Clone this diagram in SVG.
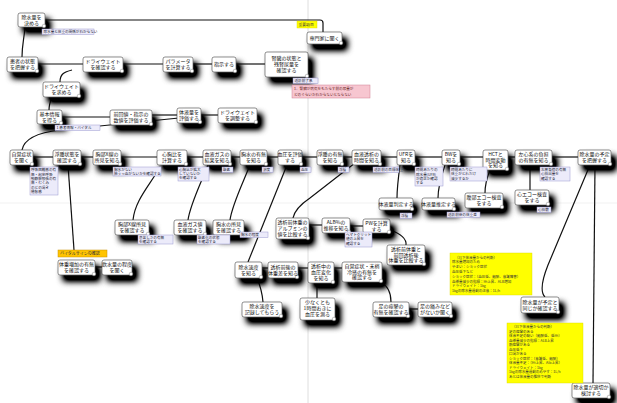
<svg xmlns="http://www.w3.org/2000/svg" width="617" height="403" viewBox="0 0 617 403">
<defs>
<filter id="sh" x="-50%" y="-70%" width="220%" height="280%">
<feGaussianBlur in="SourceAlpha" stdDeviation="3.2"/>
<feOffset dx="4.5" dy="5.5" result="b"/>
<feComponentTransfer in="b" result="c"><feFuncA type="linear" slope="1.5"/></feComponentTransfer>
<feMerge><feMergeNode in="c"/><feMergeNode in="SourceGraphic"/></feMerge>
</filter>
<style>
.n rect.b{fill:#fff;stroke:#444;stroke-width:0.6;filter:url(#sh)}
.n circle{fill:#fff;stroke:#888;stroke-width:0.5}
.n text{font-family:"Noto Sans CJK JP","Noto Sans",sans-serif;font-size:5px;fill:#111;text-anchor:middle}
.c path{fill:none;stroke:#111;stroke-width:1.2}
.note rect{fill:#ecebfa;stroke:#9a98d0;stroke-width:0.5}
.note text{font-family:"Noto Sans CJK JP","Noto Sans",sans-serif;font-size:3.6px;fill:#223}
.pink rect{fill:#f7c6d0;stroke:#d07f92;stroke-width:0.5}
.pink text{font-family:"Noto Sans CJK JP",sans-serif;font-size:3.6px;fill:#622}
.yel rect{fill:#ffff00;stroke:#d8d800;stroke-width:0.4}
.yel text{font-family:"Noto Sans CJK JP",sans-serif;font-size:3.5px;fill:#333}
.org rect{fill:#ffc400;stroke:#c89000;stroke-width:0.5}
.org text{font-family:"Noto Sans CJK JP",sans-serif;font-size:4px;fill:#333}
</style>
</defs>
<rect width="617" height="403" fill="#fff"/>
<g id="pagebreaks" stroke="#d6d6d6" stroke-width="0.8">
<line x1="308" y1="0" x2="308" y2="403"/>
<line x1="0" y1="203" x2="617" y2="203" stroke="#eeeeee"/>
</g>
<g class="c" id="connectors">
<path d="M45,20 L320,20 Q323,20 323,23 L323,32"/>
<path d="M25,27 C24,40 22,45 22,57"/>
<path d="M38,64 L83,64"/>
<path d="M123,64 L163,64"/>
<path d="M193,64 L212,64"/>
<path d="M236,64 L265,64"/>
<path d="M72,70 C64,72 60,74 60,82"/>
<path d="M52,97 C50,102 49,105 49,110"/>
<path d="M62,117 L110,117"/>
<path d="M152,115 L177,115"/>
<path d="M201,115 L218,115"/>
<path d="M179,118 L60,130 Q25,134 22,150"/>
<path d="M33,157 L53,157"/>
<path d="M81,157 L93,157"/>
<path d="M121,157 L157,157"/>
<path d="M187,157 L203,157"/>
<path d="M231,157 L240,157"/>
<path d="M267,157 L278,157"/>
<path d="M302,157 L317,157"/>
<path d="M343,157 L352,157"/>
<path d="M381,157 L397,157"/>
<path d="M415,157 L442,157"/>
<path d="M460,157 L483,157"/>
<path d="M508,157 L515,157"/>
<path d="M552,157 L578,157"/>
<path d="M68,165 L74,250"/>
<path d="M160,167 C150,185 135,200 133,220"/>
<path d="M208,165 C200,185 190,205 188,220"/>
<path d="M250,165 C242,185 232,205 230,220"/>
<path d="M287,165 L248,262"/>
<path d="M355,163 L310,198 Q295,208 293,218"/>
<path d="M309,225 L322,225"/>
<path d="M350,226 L363,226"/>
<path d="M390,230 Q407,236 406,245"/>
<path d="M400,165 C398,180 397,190 397,198"/>
<path d="M445,165 C440,180 438,190 438,198"/>
<path d="M490,170 C486,180 485,185 485,193"/>
<path d="M530,165 L530,190"/>
<path d="M590,165 L548,265 Q538,290 545,297"/>
<path d="M595,165 L593,383"/>
<path d="M262,268 L268,268"/>
<path d="M298,268 L308,268"/>
<path d="M334,268 L342,268"/>
<path d="M257,278 Q262,290 263,302"/>
<path d="M317,283 L317,298"/>
<path d="M380,282 Q391,287 391,302"/>
<path d="M409,309 L418,309"/>
<path d="M95,267 L102,267"/>
</g>

<g id="n1" class="n" transform="translate(18,13)"><rect class="b" width="27" height="14" rx="2"/><circle cx="26" cy="13" r="1.8"/><text x="13.5" y="6">除水量を</text><text x="13.5" y="12">決める</text></g>
<g id="n2" class="n" transform="translate(7,57)"><rect class="b" width="31" height="15" rx="2"/><circle cx="30" cy="14" r="1.8"/><text x="15.5" y="6.2">患者の状態</text><text x="15.5" y="12.2">を把握する</text></g>
<g id="n3" class="n" transform="translate(83,57)"><rect class="b" width="40" height="15" rx="2"/><circle cx="39" cy="14" r="1.8"/><text x="20" y="6.2">ドライウェイト</text><text x="20" y="12.2">を確認する</text></g>
<g id="n4" class="n" transform="translate(163,57)"><rect class="b" width="30" height="15" rx="2"/><circle cx="29" cy="14" r="1.8"/><text x="15" y="6.2">パラメータ</text><text x="15" y="12.2">を計算する</text></g>
<g id="n5" class="n" transform="translate(212,57)"><rect class="b" width="24" height="15" rx="2"/><circle cx="23" cy="14" r="1.8"/><text x="12" y="9.2">指示する</text></g>
<g id="n6" class="n" transform="translate(265,52)"><rect class="b" width="43" height="25" rx="2"/><circle cx="42" cy="24" r="1.8"/><text x="21.5" y="8">腎臓の状態と</text><text x="21.5" y="14">残腎尿量を</text><text x="21.5" y="20">確認する</text></g>
<g id="n7" class="n" transform="translate(307,32)"><rect class="b" width="35" height="12" rx="2"/><circle cx="34" cy="11" r="1.8"/><text x="17.5" y="7.8">専門家に聞く</text></g>
<g id="n8" class="n" transform="translate(43,82)"><rect class="b" width="37" height="15" rx="2"/><circle cx="36" cy="14" r="1.8"/><text x="18.5" y="6.2">ドライウェイト</text><text x="18.5" y="12.2">を求める</text></g>
<g id="n9" class="n" transform="translate(37,110)"><rect class="b" width="25" height="14" rx="2"/><circle cx="24" cy="13" r="1.8"/><text x="12.5" y="6">基本情報</text><text x="12.5" y="12">を得る</text></g>
<g id="n10" class="n" transform="translate(110,110)"><rect class="b" width="42" height="15" rx="2"/><circle cx="41" cy="14" r="1.8"/><text x="21" y="6.2">前回値・指示の</text><text x="21" y="12.2">数値を評価する</text></g>
<g id="n11" class="n" transform="translate(177,108)"><rect class="b" width="24" height="15" rx="2"/><circle cx="23" cy="14" r="1.8"/><text x="12" y="6.2">体液量を</text><text x="12" y="12.2">評価する</text></g>
<g id="n12" class="n" transform="translate(218,108)"><rect class="b" width="39" height="15" rx="2"/><circle cx="38" cy="14" r="1.8"/><text x="19.5" y="6.2">ドライウェイト</text><text x="19.5" y="12.2">を調整する</text></g>

<g id="n13" class="n" transform="translate(10,150)"><rect class="b" width="23" height="15" rx="2"/><circle cx="22" cy="14" r="1.8"/><text x="11.5" y="6.2">自覚症状</text><text x="11.5" y="12.2">を聞く</text></g>
<g id="n14" class="n" transform="translate(53,150)"><rect class="b" width="28" height="15" rx="2"/><circle cx="27" cy="14" r="1.8"/><text x="14" y="6.2">浮腫状態を</text><text x="14" y="12.2">確認する</text></g>
<g id="n15" class="n" transform="translate(93,150)"><rect class="b" width="28" height="15" rx="2"/><circle cx="27" cy="14" r="1.8"/><text x="14" y="6.2">胸部X線の</text><text x="14" y="12.2">所見を知る</text></g>
<g id="n16" class="n" transform="translate(157,150)"><rect class="b" width="30" height="15" rx="2"/><circle cx="29" cy="14" r="1.8"/><text x="15" y="6.2">心胸比を</text><text x="15" y="12.2">計算する</text></g>
<g id="n17" class="n" transform="translate(203,150)"><rect class="b" width="28" height="15" rx="2"/><circle cx="27" cy="14" r="1.8"/><text x="14" y="6.2">血液ガスの</text><text x="14" y="12.2">結果を知る</text></g>
<g id="n18" class="n" transform="translate(240,150)"><rect class="b" width="27" height="15" rx="2"/><circle cx="26" cy="14" r="1.8"/><text x="13.5" y="6.2">胸水の有無</text><text x="13.5" y="12.2">を知る</text></g>
<g id="n19" class="n" transform="translate(278,150)"><rect class="b" width="24" height="15" rx="2"/><circle cx="23" cy="14" r="1.8"/><text x="12" y="6.2">血圧を評価</text><text x="12" y="12.2">する</text></g>
<g id="n20" class="n" transform="translate(317,150)"><rect class="b" width="26" height="15" rx="2"/><circle cx="25" cy="14" r="1.8"/><text x="13" y="6.2">浮腫の有無</text><text x="13" y="12.2">を知る</text></g>
<g id="n21" class="n" transform="translate(352,150)"><rect class="b" width="29" height="15" rx="2"/><circle cx="28" cy="14" r="1.8"/><text x="14.5" y="6.2">血液透析の</text><text x="14.5" y="12.2">時間を知る</text></g>
<g id="n22" class="n" transform="translate(397,150)"><rect class="b" width="18" height="15" rx="2"/><circle cx="17" cy="14" r="1.8"/><text x="9" y="6.2">UFRを</text><text x="9" y="12.2">知る</text></g>
<g id="n23" class="n" transform="translate(442,150)"><rect class="b" width="18" height="15" rx="2"/><circle cx="17" cy="14" r="1.8"/><text x="9" y="6.2">BWを</text><text x="9" y="12.2">知る</text></g>
<g id="n24" class="n" transform="translate(483,150)"><rect class="b" width="25" height="20" rx="2"/><circle cx="24" cy="19" r="1.8"/><text x="12.5" y="6">HCTと</text><text x="12.5" y="11.7">時間変動</text><text x="12.5" y="17.4">を知る</text></g>
<g id="n25" class="n" transform="translate(515,150)"><rect class="b" width="37" height="15" rx="2"/><circle cx="36" cy="14" r="1.8"/><text x="18.5" y="6.2">左心系の負担</text><text x="18.5" y="12.2">の有無を知る</text></g>
<g id="n26" class="n" transform="translate(578,150)"><rect class="b" width="33" height="15" rx="2"/><circle cx="32" cy="14" r="1.8"/><text x="16.5" y="6.2">除水量の予定</text><text x="16.5" y="12.2">を把握する</text></g>

<g id="n27" class="n" transform="translate(115,220)"><rect class="b" width="34" height="15" rx="2"/><circle cx="33" cy="14" r="1.8"/><text x="17" y="6.2">胸部X線所見</text><text x="17" y="12.2">を確認する</text></g>
<g id="n28" class="n" transform="translate(174,220)"><rect class="b" width="32" height="15" rx="2"/><circle cx="31" cy="14" r="1.8"/><text x="16" y="6.2">血液ガス値</text><text x="16" y="12.2">を確認する</text></g>
<g id="n29" class="n" transform="translate(213,220)"><rect class="b" width="31" height="15" rx="2"/><circle cx="30" cy="14" r="1.8"/><text x="15.5" y="6.2">胸水の所見</text><text x="15.5" y="12.2">を確認する</text></g>
<g id="n30" class="n" transform="translate(276,218)"><rect class="b" width="33" height="21" rx="2"/><circle cx="32" cy="20" r="1.8"/><text x="16.5" y="6">透析前体重の</text><text x="16.5" y="12">アルブミンの</text><text x="16.5" y="18">値を比較する</text></g>
<g id="n31" class="n" transform="translate(322,218)"><rect class="b" width="28" height="15" rx="2"/><circle cx="27" cy="14" r="1.8"/><text x="14" y="6.2">ALB%の</text><text x="14" y="12.2">推移を知る</text></g>
<g id="n32" class="n" transform="translate(363,219)"><rect class="b" width="27" height="14" rx="2"/><circle cx="26" cy="13" r="1.8"/><text x="13.5" y="6">PWを計算</text><text x="13.5" y="12">する</text></g>
<g id="n33" class="n" transform="translate(379,198)"><rect class="b" width="34" height="12" rx="2"/><circle cx="33" cy="11" r="1.8"/><text x="17" y="7.8">体液量判定する</text></g>
<g id="n34" class="n" transform="translate(422,198)"><rect class="b" width="33" height="12" rx="2"/><circle cx="32" cy="11" r="1.8"/><text x="16.5" y="7.8">体液量推定する</text></g>
<g id="n35" class="n" transform="translate(465,193)"><rect class="b" width="38" height="15" rx="2"/><circle cx="37" cy="14" r="1.8"/><text x="19" y="6.2">腹部エコー検査</text><text x="19" y="12.2">をする</text></g>
<g id="n36" class="n" transform="translate(515,190)"><rect class="b" width="34" height="15" rx="2"/><circle cx="33" cy="14" r="1.8"/><text x="17" y="6.2">心エコー検査</text><text x="17" y="12.2">をする</text></g>
<g id="n37" class="n" transform="translate(387,245)"><rect class="b" width="38" height="20" rx="2"/><circle cx="37" cy="19" r="1.8"/><text x="19" y="6">透析前体重と</text><text x="19" y="11.7">前回透析後</text><text x="19" y="17.4">体重を比較する</text></g>

<g id="n38" class="n" transform="translate(235,262)"><rect class="b" width="27" height="16" rx="2"/><circle cx="26" cy="15" r="1.8"/><text x="13.5" y="6.6">除水速度</text><text x="13.5" y="12.6">を知る</text></g>
<g id="n39" class="n" transform="translate(268,262)"><rect class="b" width="30" height="16" rx="2"/><circle cx="29" cy="15" r="1.8"/><text x="15" y="6.6">透析前後の</text><text x="15" y="12.6">体重差を知る</text></g>
<g id="n40" class="n" transform="translate(308,262)"><rect class="b" width="26" height="21" rx="2"/><circle cx="25" cy="20" r="1.8"/><text x="13" y="6">透析中の</text><text x="13" y="12">血圧変化</text><text x="13" y="18">を知る</text></g>
<g id="n41" class="n" transform="translate(342,262)"><rect class="b" width="40" height="20" rx="2"/><circle cx="39" cy="19" r="1.8"/><text x="20" y="6">自覚症状・末梢</text><text x="20" y="11.7">冷感の有無を</text><text x="20" y="17.4">確認する</text></g>
<g id="n42" class="n" transform="translate(242,302)"><rect class="b" width="40" height="15" rx="2"/><circle cx="39" cy="14" r="1.8"/><text x="20" y="6.2">除水速度を</text><text x="20" y="12.2">記録してもらう</text></g>
<g id="n43" class="n" transform="translate(300,298)"><rect class="b" width="35" height="22" rx="2"/><circle cx="34" cy="21" r="1.8"/><text x="17.5" y="6.4">少なくとも</text><text x="17.5" y="12.4">1時間おきに</text><text x="17.5" y="18.4">血圧を測る</text></g>
<g id="n44" class="n" transform="translate(373,302)"><rect class="b" width="36" height="15" rx="2"/><circle cx="35" cy="14" r="1.8"/><text x="18" y="6.2">足の痙攣の</text><text x="18" y="12.2">有無を確認する</text></g>
<g id="n45" class="n" transform="translate(418,302)"><rect class="b" width="34" height="15" rx="2"/><circle cx="33" cy="14" r="1.8"/><text x="17" y="6.2">足の痛みなど</text><text x="17" y="12.2">がないか聞く</text></g>
<g id="n46" class="n" transform="translate(521,297)"><rect class="b" width="38" height="16" rx="2"/><circle cx="37" cy="15" r="1.8"/><text x="19" y="6.6">除水量が予定と</text><text x="19" y="12.6">同じか確認する</text></g>
<g id="n47" class="n" transform="translate(572,383)"><rect class="b" width="38" height="15" rx="2"/><circle cx="37" cy="14" r="1.8"/><text x="19" y="6.2">除水量が適切か</text><text x="19" y="12.2">検討する</text></g>
<g id="n48" class="n" transform="translate(58,260)"><rect class="b" width="37" height="15" rx="2"/><circle cx="36" cy="14" r="1.8"/><text x="18.5" y="6.2">体重増加の有無</text><text x="18.5" y="12.2">を確認する</text></g>
<g id="n49" class="n" transform="translate(102,260)"><rect class="b" width="30" height="15" rx="2"/><circle cx="29" cy="14" r="1.8"/><text x="15" y="6.2">飲水量の程度</text><text x="15" y="12.2">を聞く</text></g>

<g id="notes">
<g class="note"><rect x="42" y="29" width="52" height="5.5"/><text x="43.5" y="33.2">除水量と体重の関係がわからない</text></g>
<g class="note"><rect x="293" y="78" width="25" height="5.5"/><text x="294.5" y="82.2">透析前了承</text></g>
<g class="pink"><rect x="292" y="85" width="78" height="13"/><text x="294" y="90">1．腎臓が病気をもたらす前の尿量が</text><text x="294" y="95.5">どのぐらいかわからないとならない</text></g>
<g class="yel"><rect x="297" y="21" width="20" height="7"/><text x="298.5" y="26" style="font-size:3.8px">重要項目</text></g>
<g class="note"><rect x="55" y="125" width="45" height="5.5"/><text x="56.5" y="129.2">1  患者情報・バイタル</text></g>
<g class="note"><rect x="30" y="167" width="28" height="28"/><text x="31" y="171.3">呼吸困難感の有</text><text x="31" y="175.6">無・起坐呼吸</text><text x="31" y="179.9">頸静脈怒張の有</text><text x="31" y="184.2">無・むくみ</text><text x="31" y="188.5">のどの渇き</text><text x="31" y="192.8">倦怠感</text></g>
<g class="note"><rect x="113" y="167" width="48" height="9"/><text x="114" y="171">胸水がない</text><text x="114" y="175">肺うっ血がないかを確認する</text></g>
<g class="note"><rect x="178" y="167" width="31" height="14"/><text x="179" y="171">心胸比が拡大</text><text x="179" y="175">していないか</text><text x="179" y="179">を確認する</text></g>
<g class="note"><rect x="222" y="167" width="11" height="5.5"/><text x="223" y="171.2">酸素</text></g>
<g class="note"><rect x="262" y="167" width="11" height="5.5"/><text x="263" y="171.2">濃度</text></g>
<g class="note"><rect x="300" y="167" width="11" height="5.5"/><text x="301" y="171.2">血圧</text></g>
<g class="note"><rect x="338" y="167" width="11" height="5.5"/><text x="339" y="171.2">浮腫</text></g>
<g class="note"><rect x="373" y="167" width="26" height="5.5"/><text x="374" y="171.2">透析前の目標体重</text></g>
<g class="note"><rect x="415" y="167" width="28" height="19"/><text x="416" y="171.2">時間あたりの</text><text x="416" y="175.6">除水量(UFR)</text><text x="416" y="180">が適正か確認</text><text x="416" y="184.4">する</text></g>
<g class="note"><rect x="450" y="167" width="37" height="14"/><text x="451" y="171.2">時間あたりに</text><text x="451" y="175.4">体重がどれだけ</text><text x="451" y="179.6">減少するか</text></g>
<g class="note"><rect x="540" y="167" width="30" height="14"/><text x="541" y="171.2">左房負荷の有無</text><text x="541" y="175.4">心拍出量を</text><text x="541" y="179.6">確認する</text></g>
<g class="note"><rect x="400" y="213" width="12" height="5.5"/><text x="401" y="217.2">浮腫</text></g>
<g class="note"><rect x="447" y="212" width="33" height="5.5"/><text x="448" y="216.2">透析前後の体重差</text></g>
<g class="note"><rect x="537" y="207" width="14" height="5.5"/><text x="538" y="211.2">心拍数</text></g>
<g class="note"><rect x="345" y="232" width="27" height="15"/><text x="346" y="236.2">ヘマトクリット</text><text x="346" y="240.4">値の上昇を</text><text x="346" y="244.6">確認する</text></g>
<g class="note"><rect x="138" y="235" width="35" height="9"/><text x="139" y="239">息苦しさの有無</text><text x="139" y="243">を確認する</text></g>
<g class="note"><rect x="197" y="235" width="33" height="9"/><text x="198" y="239">酸素化の状態</text><text x="198" y="243">を確認する</text></g>
<g class="note"><rect x="240" y="232" width="28" height="5.5"/><text x="241" y="236.2">胸水の程度</text></g>
<g class="org"><rect x="58" y="250" width="49" height="7"/><text x="60" y="255.2">バイタルサインの確認</text></g>
<g class="yel"><rect x="450" y="253" width="82" height="42"/>
<text x="455" y="258.5">（以下体液量からの判断）</text>
<text x="452" y="263.3">除水量増加のため</text>
<text x="452" y="268.1">やまい：ショック症状</text>
<text x="452" y="272.9">血圧低下など</text>
<text x="452" y="277.7">ショック症状：（血圧低、頻脈、意識障害）</text>
<text x="452" y="282.5">血漿量減少の指標：Ht上昇、ALB増加</text>
<text x="452" y="287.3">ドライウェイト：1kg</text>
<text x="452" y="292.1">1kgの除水量過剰の注意：1L/h</text>
</g>
<g class="yel"><rect x="507" y="323" width="76" height="60"/>
<text x="512" y="328.3">（以下体液量からの判断）</text>
<text x="509" y="332.8">足の痙攣のある</text>
<text x="509" y="337.3">体液不足の疑い（頻脈低、低Ht）</text>
<text x="509" y="341.8">血漿量減少の指標：ALB上昇</text>
<text x="509" y="346.3">筋痙攣がある</text>
<text x="509" y="350.8">血圧低下</text>
<text x="509" y="355.3">口渇がある</text>
<text x="509" y="359.8">ショック症状：（意識低、頻脈）</text>
<text x="509" y="364.3">体液量不足：（Ht上昇、Alb上昇）</text>
<text x="509" y="368.8">ドライウェイト：1kg</text>
<text x="509" y="373.3">1kgの除水量過剰のめやす：1L/h</text>
<text x="509" y="377.8">あとは体液量の推移で判断</text>
</g>
</g>
</svg>
